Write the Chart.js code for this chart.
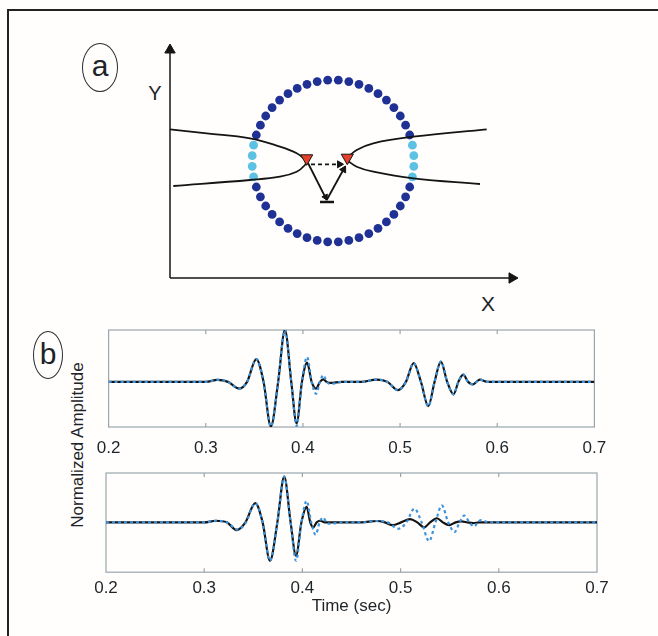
<!DOCTYPE html>
<html>
<head>
<meta charset="utf-8">
<script src="https://cdn.jsdelivr.net/npm/chart.js@4.4.1/dist/chart.umd.min.js"></script>
<style>
html, body { margin: 0; padding: 0; background: #fffefc; }
#page { position: relative; width: 658px; height: 636px; overflow: hidden;
        font-family: "Liberation Sans", Arial, sans-serif; color: #1d2328; }
#frame { position: absolute; left: 7px; top: 9px; width: 700px; height: 700px;
         border-left: 2px solid #222; border-top: 2px solid #222; }
canvas { position: absolute; }
.lbl { position: absolute; white-space: nowrap; transform: translate(-50%, -50%); line-height: 1; }
.badge { position: absolute; border: 1.5px solid #2a2f33; border-radius: 50%; box-sizing: border-box;
         display: flex; align-items: center; justify-content: center; line-height: 1;
         font-family: "Liberation Sans Narrow", "Liberation Sans", sans-serif; color: #1d2328; }
</style>
</head>
<body>
<div id="page">
  <div id="frame"></div>
  <div class="badge" style="left:82px;top:43px;width:36px;height:49px;font-size:30px;padding-bottom:3px;">a</div>
  <div class="badge" style="left:33px;top:331px;width:30px;height:48px;font-size:30px;padding-bottom:3px;">b</div>
  <div class="lbl" style="left:155px;top:93px;font-size:20px;">Y</div>
  <div class="lbl" style="left:488px;top:303px;font-size:21px;">X</div>
  <div class="lbl" style="left:77px;top:445px;font-size:17px;transform:translate(-50%,-50%) rotate(-90deg);">Normalized Amplitude</div>
  <canvas id="schema" width="380" height="280" style="left:150px;top:30px;"></canvas>
  <canvas id="waveTop" width="531" height="150" style="left:86px;top:320px;"></canvas>
  <canvas id="waveBottom" width="531" height="158" style="left:86px;top:463px;"></canvas>
</div>
<script>
// ---- panel (a): sketch, units measured from the axes origin ----
const darkDots = [
  [239.7,143.0],[235.6,152.8],[230.3,162.0],[223.9,170.4],[216.4,177.9],[208.0,184.3],[198.8,189.6],[189.0,193.7],[178.8,196.4],[168.3,197.8],
  [86.3,143.0],[90.4,152.8],[95.7,162.0],[102.1,170.4],[109.6,177.9],[118.0,184.3],[127.2,189.6],[137.0,193.7],[147.2,196.4],[157.7,197.8],
  [86.3,91.0],[90.4,81.2],[95.7,72.0],[102.1,63.6],[109.6,56.1],[118.0,49.7],[127.2,44.4],[137.0,40.3],[147.2,37.6],[157.7,36.2],
  [239.7,91.0],[235.6,81.2],[230.3,72.0],[223.9,63.6],[216.4,56.1],[208.0,49.7],[198.8,44.4],[189.0,40.3],[178.8,37.6],[168.3,36.2]
];
const lightDots = [
  [243.8,122.3],[242.4,132.8],[243.8,111.7],[242.4,101.2],
  [82.2,122.3],[83.6,132.8],[82.2,111.7],[83.6,101.2]
];
const curveLeftUpper = [[0,148.7],[36.7,144.7],[80,139.7],[110,131.3],[126.7,124.7],[136.7,117.3]];
const curveLeftLower = [[3.3,92],[80,98],[110,101.3],[126.7,106.3],[135,113],[136.7,117.3]];
const curveRightUpper = [[176.7,119.7],[186.7,128],[203.3,134.7],[243.3,141.3],[316.7,148.7]];
const curveRightLower = [[176.7,118],[186.7,111.3],[203.3,106.3],[243.3,99.7],[310,94]];
const receivers = [[136.7,119.7],[177.3,120.3]];
const rayDown = [[138,115],[156.7,78]];
const rayUp = [[156.7,78],[175,111.3]];
const sourceBar = [[150,76],[164,76]];
const dashedRay = [[141,113.7],[172,113.7]];
const axisY = [[0,0],[0,229]];
const axisX = [[0,0],[343,0]];

// ---- panel (b): traces ----
const times = [0.20, 0.30, 0.312, 0.323, 0.3345, 0.3425, 0.352, 0.3595, 0.367, 0.3745, 0.3815, 0.388, 0.3935, 0.399,
  0.4043, 0.409, 0.4135, 0.4175, 0.421, 0.4245, 0.428, 0.44, 0.46, 0.4756, 0.487, 0.4977, 0.506, 0.514, 0.5215,
  0.529, 0.5355, 0.542, 0.5485, 0.555, 0.560, 0.565, 0.570, 0.575, 0.5785, 0.582, 0.59, 0.70];
const ampTopBlack = [0, 0, 0.04, 0, -0.13, 0, 0.44, 0, -0.86, 0, 1.0, 0, -0.8, 0,
  0.37, 0, -0.13, 0, 0.05, 0, -0.02, 0, 0, 0.045, 0, -0.16, 0, 0.36, 0,
  -0.47, 0, 0.39, 0, -0.24, 0, 0.14, 0, -0.05, 0, 0.045, 0, 0];
const ampTopBlue = [0, 0, 0.04, 0, -0.13, 0, 0.44, 0, -0.86, 0, 1.0, 0, -0.85, 0,
  0.48, 0, -0.23, 0, 0.13, 0, -0.04, 0, 0, 0.045, 0, -0.16, 0, 0.36, 0,
  -0.47, 0, 0.39, 0, -0.24, 0, 0.14, 0, -0.05, 0, 0.045, 0, 0];
const ampBottomBlue = [0, 0, 0.036, 0, -0.16, 0, 0.42, 0, -0.84, 0, 1.0, 0, -0.84, 0,
  0.47, 0, -0.27, 0, 0.11, 0, -0.03, 0, 0, 0.03, 0, -0.14, 0, 0.30, 0,
  -0.41, 0, 0.37, 0, -0.21, 0, 0.15, 0, -0.09, 0, 0.05, 0, 0];
const timesAtten = [0.20, 0.30, 0.312, 0.323, 0.333, 0.342, 0.352, 0.3595, 0.367, 0.3745, 0.3815, 0.388, 0.3935, 0.399,
  0.4043, 0.408, 0.411, 0.4145, 0.418, 0.423, 0.44, 0.46, 0.4756, 0.484, 0.492, 0.5005, 0.5096, 0.517, 0.524,
  0.530, 0.537, 0.543, 0.5495, 0.556, 0.562, 0.568, 0.574, 0.58, 0.70];
const ampBottomBlack = [0, 0, 0.036, 0, -0.17, 0, 0.42, 0, -0.84, 0, 1.0, 0, -0.73, 0,
  0.34, 0, -0.11, 0, 0.036, 0, 0, 0, 0.03, 0, -0.06, 0, 0.07, 0, -0.11,
  0, 0.09, 0, -0.06, 0, 0.02, 0, -0.015, 0, 0];
const timeTicks = [0.2, 0.3, 0.4, 0.5, 0.6, 0.7];

Chart.defaults.font.family = "'Liberation Sans', Arial, sans-serif";
Chart.defaults.color = "#1d2328";

const asPts = arr => arr.map(([x, y]) => ({ x, y }));
const zip = (xs, ys) => xs.map((x, i) => ({ x, y: ys[i] }));

function lineSet(arr, extra) {
    return Object.assign({
        data: asPts(arr), showLine: true, borderColor: "#141414", borderWidth: 1.8,
        pointRadius: 0, tension: 0.4, fill: false
    }, extra || {});
}
function markerSet(arr, rotation, radius, fillColor) {
    return {
        data: asPts(arr), showLine: false, pointStyle: "triangle", rotation,
        pointRadius: radius, backgroundColor: fillColor, borderColor: "#141414", borderWidth: 1
    };
}

// schematic (first dataset is drawn on top)
new Chart(document.getElementById("schema").getContext("2d"), {
    type: "scatter",
    data: {
        datasets: [
            markerSet(receivers, 180, 7, "#e5402a"),
            markerSet([[173.6,108.5]], 29, 4, "#141414"),
            markerSet([[155.4,81]], 153, 3.5, "#141414"),
            markerSet([[169.5,113.7]], 90, 4, "#141414"),
            lineSet(rayDown, { tension: 0 }),
            lineSet(rayUp, { tension: 0 }),
            lineSet(sourceBar, { tension: 0, borderWidth: 2.5 }),
            lineSet(dashedRay, { tension: 0, borderDash: [4, 3] }),
            lineSet(curveLeftUpper),
            lineSet(curveLeftLower),
            lineSet(curveRightUpper),
            lineSet(curveRightLower),
            lineSet(axisY, { tension: 0, borderWidth: 1.5 }),
            lineSet(axisX, { tension: 0, borderWidth: 1.5 }),
            markerSet([[0,228]], 0, 6, "#141414"),
            markerSet([[342,0]], 90, 6, "#141414"),
            { data: asPts(lightDots), pointRadius: 4.4, backgroundColor: "#5cc1e2", borderWidth: 0 },
            { data: asPts(darkDots), pointRadius: 4.4, backgroundColor: "#1f3194", borderWidth: 0 }
        ]
    },
    options: {
        responsive: false, animation: false,
        layout: { padding: 0, autoPadding: false },
        plugins: { legend: { display: false }, tooltip: { enabled: false } },
        scales: {
            x: { display: false, min: -20, max: 360 },
            y: { display: false, min: -32, max: 248 }
        }
    }
});

// box with inward ticks round each trace plot
const framePlugin = {
    id: "frame",
    beforeDatasetsDraw(chart) {
        const { ctx, chartArea: a, scales } = chart;
        ctx.save();
        ctx.strokeStyle = "#9aa6ae";
        ctx.lineWidth = 1.2;
        ctx.strokeRect(a.left, a.top, a.right - a.left, a.bottom - a.top);
        timeTicks.forEach(t => {
            if (t <= scales.x.min || t >= scales.x.max) return;
            const px = scales.x.getPixelForValue(t);
            ctx.beginPath();
            ctx.moveTo(px, a.top); ctx.lineTo(px, a.top + 4);
            ctx.moveTo(px, a.bottom); ctx.lineTo(px, a.bottom - 4);
            ctx.stroke();
        });
        ctx.restore();
    }
};

function makeWave(id, black, blue, yMin, yMax, tickPad, withTitle, padBottom) {
    new Chart(document.getElementById(id).getContext("2d"), {
        type: "scatter",
        data: {
            datasets: [
                { data: blue, showLine: true, borderColor: "#3b93de", borderWidth: 2.2, borderDash: [3, 3],
                  pointRadius: 0, cubicInterpolationMode: "monotone" },
                { data: black, showLine: true, borderColor: "#141414", borderWidth: 2.2,
                  pointRadius: 0, cubicInterpolationMode: "monotone" }
            ]
        },
        options: {
            responsive: false, animation: false,
            layout: { padding: { left: 20, right: 20, top: 10, bottom: padBottom }, autoPadding: false },
            plugins: { legend: { display: false }, tooltip: { enabled: false } },
            scales: {
                x: {
                    type: "linear", min: 0.2, max: 0.7,
                    grid: { display: false, drawTicks: false },
                    border: { display: false },
                    afterBuildTicks: s => { s.ticks = timeTicks.map(v => ({ value: v })); },
                    ticks: { padding: tickPad, font: { size: 17 }, color: "#1d2328",
                             maxRotation: 0, callback: v => v.toFixed(1) },
                    title: { display: withTitle, text: "Time (sec)", font: { size: 17 },
                             color: "#1d2328", padding: { top: -8, bottom: 0 } }
                },
                y: { display: false, min: yMin, max: yMax }
            }
        },
        plugins: [framePlugin]
    });
}

makeWave("waveTop", zip(times, ampTopBlack), zip(times, ampTopBlue), -0.87, 1.0, 10.8, false, 1);
makeWave("waveBottom", zip(timesAtten, ampBottomBlack), zip(times, ampBottomBlue), -1.09, 1.08, 6, true, 4);
</script>
</body>
</html>
